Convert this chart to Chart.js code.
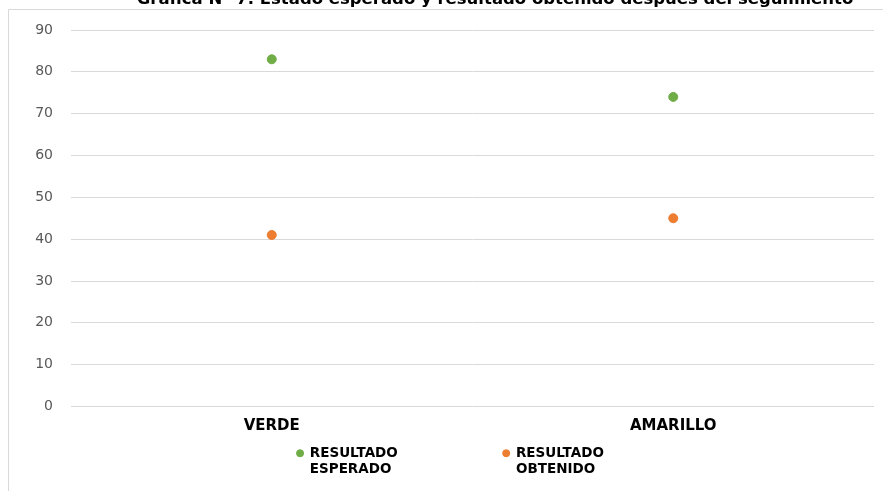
<!DOCTYPE html>
<html>
<head>
<meta charset="utf-8">
<script src="https://cdn.jsdelivr.net/npm/chart.js"></script>
<style>
html, body { margin: 0; padding: 0; background: #fff; }
#wrap { width: 883px; height: 491px; }
</style>
</head>
<body>
<div id="wrap"><canvas id="myChart"></canvas></div>
<script>
var categories = ["VERDE", "AMARILLO"];
var esperado = [83, 74];
var obtenido = [41, 45];
var yTicks = [0, 10, 20, 30, 40, 50, 60, 70, 80, 90];
var seriesNames = ["RESULTADO ESPERADO", "RESULTADO OBTENIDO"];
var seriesColors = ["#70AD47", "#ED7D31"];
var chartTitle = "Gráfica N° 7. Estado esperado y resultado obtenido después del seguimiento";

// marco gris, titulo (cortado arriba como en la imagen) y leyenda corrida
var frame = {
    id: 'frame',
    afterLayout: function (chart) {
        var lg = chart.legend;
        lg.left += 51;
        lg.right += 51;
        lg.top -= 19;
        lg.bottom = chart.height; // que no recorte la segunda linea
        lg.height = lg.bottom - lg.top;
    },
    beforeDraw: function (chart) {
        var ctx = chart.ctx;
        ctx.save();
        ctx.fillStyle = '#fff';
        ctx.fillRect(0, 0, chart.width, chart.height);
        ctx.strokeStyle = '#d9d9d9';
        ctx.lineWidth = 1;
        ctx.beginPath();
        ctx.moveTo(8.5, chart.height);
        ctx.lineTo(8.5, 9.5);
        ctx.lineTo(chart.width, 9.5);
        ctx.stroke();
        ctx.font = 'bold 16.5px "DejaVu Sans"';
        ctx.fillStyle = '#000';
        ctx.textAlign = 'center';
        ctx.textBaseline = 'alphabetic';
        ctx.fillText(chartTitle, 495, 4);
        ctx.restore();
    }
};

function makeSet(i, values) {
    return {
        label: seriesNames[i],
        data: values,
        showLine: false,
        pointRadius: 4.5,
        pointHoverRadius: 4.5,
        pointBackgroundColor: seriesColors[i],
        pointBorderColor: seriesColors[i],
        borderColor: seriesColors[i],
        backgroundColor: seriesColors[i]
    };
}

new Chart("myChart", {
    type: "line",
    data: {
        labels: categories,
        datasets: [makeSet(0, esperado), makeSet(1, obtenido)]
    },
    plugins: [frame],
    options: {
        responsive: true,
        maintainAspectRatio: false,
        animation: false,
        layout: { padding: { top: 30, left: 9, right: 9, bottom: 2 } },
        scales: {
            x: {
                offset: true,
                grid: { display: false, drawTicks: false },
                border: { display: false },
                ticks: {
                    padding: 11,
                    color: '#000',
                    font: { family: '"DejaVu Sans"', size: 15, weight: 'bold', lineHeight: 1.2 }
                }
            },
            y: {
                min: yTicks[0],
                max: yTicks[yTicks.length - 1],
                afterFit: function (axis) { axis.width = 62; },
                grid: { color: '#d9d9d9', drawTicks: false },
                border: { display: false },
                ticks: {
                    stepSize: yTicks[1] - yTicks[0],
                    padding: 18,
                    color: '#595959',
                    font: { family: '"DejaVu Sans"', size: 14 }
                }
            }
        },
        plugins: {
            title: { display: false },
            tooltip: { enabled: false },
            legend: {
                position: 'bottom',
                labels: {
                    usePointStyle: true,
                    boxWidth: 6,
                    boxHeight: 5,
                    padding: 19,
                    color: '#000',
                    font: { family: '"DejaVu Sans"', size: 13.5, weight: 'bold', lineHeight: 1.2 },
                    generateLabels: function (chart) {
                        var items = Chart.defaults.plugins.legend.labels.generateLabels(chart);
                        items.forEach(function (it) { it.text = it.text.split(' '); });
                        return items;
                    }
                }
            }
        }
    }
});
</script>
</body>
</html>
